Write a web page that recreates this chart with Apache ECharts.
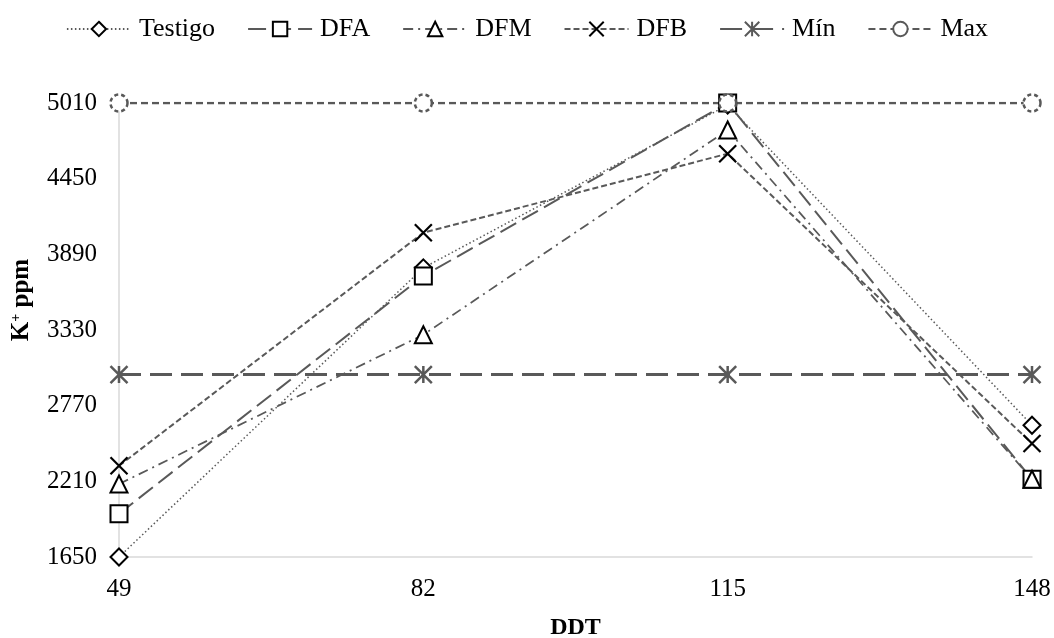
<!DOCTYPE html>
<html>
<head>
<meta charset="utf-8">
<script src="https://cdn.jsdelivr.net/npm/echarts@6/dist/echarts.min.js"></script>
<style>html,body{margin:0;padding:0;background:#fff;}#chart{width:1054px;height:638px;}</style>
</head>
<body>
<div id="chart"></div>
<script>
const categories = ['49', '82', '115', '148'];
const testigo = [1650, 3790, 4995, 2625];
const dfa = [1970, 3730, 5010, 2225];
const dfm = [2190, 3295, 4810, 2225];
const dfb = [2325, 4050, 4635, 2490];
const minVals = [3000, 3000, 3000, 3000];
const maxVals = [5010, 5010, 5010, 5010];
const yTicks = { min: 1650, max: 5010, interval: 560 };

const FONT = 'Liberation Serif';
const LINE = '#595959';
const X_PATH = 'path://M0,0L10,10M10,0L0,10';
const STAR_PATH = 'path://M0,0L10,10M10,0L0,10M5,0L5,10';

function mk(name, data, lineType, lineWidth, symbol, symStyle) {
  return {
    name: name, type: 'line', data: data,
    symbol: symbol, symbolSize: 17,
    lineStyle: { color: LINE, width: lineWidth, type: lineType },
    itemStyle: symStyle,
    emphasis: { disabled: true },
    animation: false
  };
}

const chart = echarts.init(document.getElementById('chart'));
chart.setOption({
  backgroundColor: '#fff',
  textStyle: { fontFamily: FONT },
  legend: {
    top: 11, left: 'center',
    itemWidth: 64, itemHeight: 18, itemGap: 32,
    textStyle: { fontFamily: FONT, fontSize: 26, color: '#000', padding: [0, 0, 0, 3] },
    data: ['Testigo', 'DFA', 'DFM', 'DFB', 'Mín', 'Max']
  },
  grid: { left: 119, right: 22, top: 103, bottom: 81, outerBoundsMode: 'none', containLabel: false },
  xAxis: {
    type: 'category', data: categories, boundaryGap: false,
    axisLine: { lineStyle: { color: '#d9d9d9', width: 1.5 } },
    axisTick: { show: false },
    axisLabel: { fontFamily: FONT, fontSize: 25, color: '#000', margin: 20 },
    name: 'DDT', nameLocation: 'middle', nameGap: 59,
    nameTextStyle: { fontFamily: FONT, fontSize: 24, fontWeight: 'bold', color: '#000' }
  },
  yAxis: {
    type: 'value', min: yTicks.min, max: yTicks.max, interval: yTicks.interval,
    axisLine: { show: true, lineStyle: { color: '#d9d9d9', width: 1.5 } },
    axisTick: { show: false },
    splitLine: { show: false },
    axisLabel: { fontFamily: FONT, fontSize: 25, color: '#000', margin: 22, formatter: function (v) { return String(v); } }
  },
  graphic: [{
    type: 'text', x: 22, y: 300, rotation: Math.PI / 2,
    style: {
      text: '{b|K}{s|+}{b| ppm}',
      align: 'center', verticalAlign: 'middle',
      rich: {
        b: { fontFamily: FONT, fontSize: 25, fontWeight: 'bold', fill: '#000' },
        s: { fontFamily: FONT, fontSize: 14, fontWeight: 'bold', fill: '#000', verticalAlign: 'top', padding: [0, 0, 10, 0] }
      }
    }
  }],
  series: [
    mk('Testigo', testigo, [1.5, 2.5], 1.5, 'diamond', { color: '#fff', borderColor: '#000', borderWidth: 2 }),
    mk('DFA', dfa, [18, 7], 2, 'rect', { color: '#fff', borderColor: '#000', borderWidth: 2 }),
    mk('DFM', dfm, [10, 5, 2, 5], 1.75, 'triangle', { color: '#fff', borderColor: '#000', borderWidth: 2 }),
    mk('DFB', dfb, [6, 3], 2, X_PATH, { color: '#000', borderColor: '#000', borderWidth: 2.2 }),
    mk('Mín', minVals, [22, 9], 3, STAR_PATH, { color: LINE, borderColor: LINE, borderWidth: 2.5 }),
    mk('Max', maxVals, [7, 4], 2.5, 'circle', { color: '#fff', borderColor: LINE, borderWidth: 2.5, borderType: [4, 3] })
  ]
});
</script>
</body>
</html>
